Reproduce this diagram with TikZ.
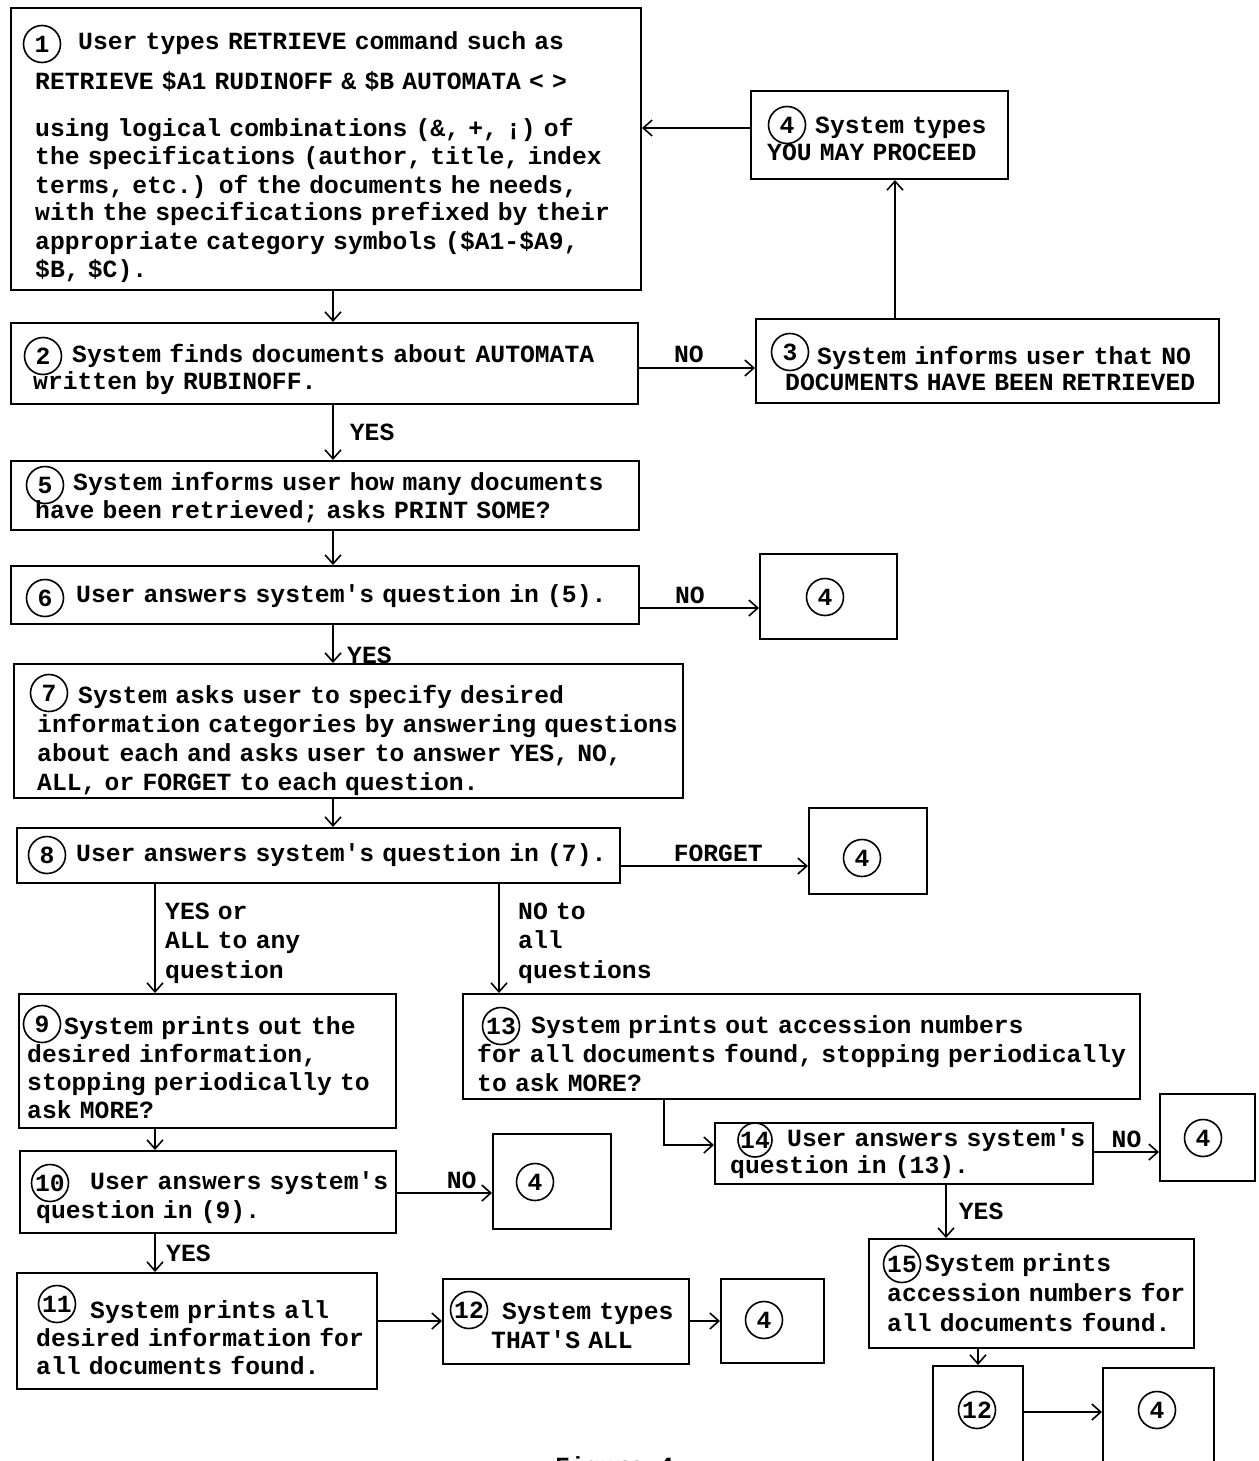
\documentclass[tikz,border=0pt]{standalone}
\usepackage{fontspec}
\setmonofont{Liberation Mono}
\usetikzlibrary{arrows.meta}
\begin{document}
\begin{tikzpicture}[x=1pt,y=-1pt,
  box/.style={draw=black, line width=2pt, anchor=north west, inner sep=0pt},
  circ/.style={draw=black, circle, line width=1.6pt, minimum size=37pt, inner sep=0pt,
    font=\ttfamily\bfseries\fontsize{24.7}{28}\selectfont},
  tx/.style={anchor=base west, inner sep=0pt, align=left, text width=700pt,
    font=\ttfamily\bfseries\fontsize{24.7}{#1}\selectfont},
  tx/.default=28,
  lbl/.style={inner sep=0pt, font=\ttfamily\bfseries\fontsize{24.7}{29.5}\selectfont},
  arr/.style={line width=1.8pt, -{Straight Barb[length=9pt,width=16pt,line width=1.6pt]}},
  conn/.style={line width=1.8pt}
]
\useasboundingbox (0,0) rectangle (1258,1461);
\clip (0,0) rectangle (1258,1461);
\fill[white] (0,0) rectangle (1258,1461);

% ---------- boxes ----------
\node[box, minimum width=630pt, minimum height=282pt] (b1) at (10,7) {};
\node[box, minimum width=257pt, minimum height=88pt] (b4) at (750,90) {};
\node[box, minimum width=627pt, minimum height=81pt] (b2) at (10,322) {};
\node[box, minimum width=463pt, minimum height=84pt] (b3) at (755,318) {};
\node[box, minimum width=628pt, minimum height=69pt] (b5) at (10,460) {};
\node[box, minimum width=628pt, minimum height=58pt] (b6) at (10,565) {};
\node[box, minimum width=137pt, minimum height=85pt] (b4a) at (759,553) {};
\node[box, minimum width=669pt, minimum height=134pt] (b7) at (13,663) {};
\node[box, minimum width=603pt, minimum height=55pt] (b8) at (16,827) {};
\node[box, minimum width=118pt, minimum height=86pt] (b4b) at (808,807) {};
\node[box, minimum width=377pt, minimum height=134pt] (b9) at (18,993) {};
\node[box, minimum width=677pt, minimum height=105pt] (b13) at (462,993) {};
\node[box, minimum width=376pt, minimum height=82pt] (b10) at (19,1150) {};
\node[box, minimum width=118pt, minimum height=95pt] (b4e) at (492,1133) {};
\node[box, minimum width=378pt, minimum height=61pt] (b14) at (714,1122) {};
\node[box, minimum width=95pt, minimum height=87pt] (b4c) at (1159,1093) {};
\node[box, minimum width=360pt, minimum height=116pt] (b11) at (16,1272) {};
\node[box, minimum width=246pt, minimum height=85pt] (b12) at (442,1278) {};
\node[box, minimum width=103pt, minimum height=84pt] (b4f) at (720,1278) {};
\node[box, minimum width=325pt, minimum height=109pt] (b15) at (868,1238) {};
\node[box, minimum width=90pt, minimum height=120pt] (b12b) at (932,1365) {};
\node[box, minimum width=111pt, minimum height=120pt] (b4d) at (1102,1367) {};

% ---------- circled numbers ----------
\node[circ] (c1) at (42,44) {1};
\node[circ] (c2) at (43,356) {2};
\node[circ] (c3) at (790,352) {3};
\node[circ] (c4) at (787,125) {4};
\node[circ] (c5) at (45,485) {5};
\node[circ] (c6) at (45,598) {6};
\node[circ] (c4a) at (825,597) {4};
\node[circ] (c7) at (49,693) {7};
\node[circ] (c8) at (47,855) {8};
\node[circ] (c4b) at (862,858) {4};
\node[circ] (c9) at (42,1024) {9};
\node[circ] (c13) at (501,1026) {13};
\node[circ] (c10) at (50,1183) {10};
\node[circ] (c4e) at (535,1182) {4};
\node[circ, minimum size=34pt] (c14) at (755,1140) {14};
\node[circ] (c4c) at (1203,1138) {4};
\node[circ] (c11) at (57,1304) {11};
\node[circ] (c12) at (469,1310) {12};
\node[circ] (c4f) at (764,1320) {4};
\node[circ] (c15) at (902,1264) {15};
\node[circ] (c12b) at (977,1410) {12};
\node[circ] (c4d) at (1157,1410) {4};

% ---------- texts ----------
\node[tx] (t1a) at (78,50) {User types RETRIEVE command such as};
\node[tx] (t1b) at (35,90) {RETRIEVE \$A1 RUDINOFF \& \$B AUTOMATA < >};
\node[tx=28] (t1c) at (35,137) {using logical combinations (\&, +, ¡) of\\
the specifications (author, title, index\\
terms, etc.) of the documents he needs,\\
with the specifications prefixed by their\\
appropriate category symbols (\$A1-\$A9,\\
\$B, \$C).};
\node[tx=27] (t2) at (33,362) {\hspace*{39pt}System finds documents about AUTOMATA\\
written by RUBINOFF.};
\node[tx=26] (t3) at (785,364) {\hspace*{32pt}System informs user that NO\\
DOCUMENTS HAVE BEEN RETRIEVED};
\node[tx=27] (t4) at (767,134) {\hspace*{48pt}System types\\
YOU MAY PROCEED};
\node[tx=28] (t5) at (35,490) {\hspace*{38pt}System informs user how many documents\\
have been retrieved; asks PRINT SOME?};
\node[tx] (t6) at (76,602) {User answers system's question in (5).};
\node[tx=29.3] (t7) at (37,703) {\hspace*{41pt}System asks user to specify desired\\
information categories by answering questions\\
about each and asks user to answer YES, NO,\\
ALL, or FORGET to each question.};
\node[tx] (t8) at (76,861) {User answers system's question in (7).};
\node[tx=28.3] (t9) at (27,1034) {\hspace*{37pt}System prints out the\\
desired information,\\
stopping periodically to\\
ask MORE?};
\node[tx=29] (t13) at (477,1033) {\hspace*{54pt}System prints out accession numbers\\
for all documents found, stopping periodically\\
to ask MORE?};
\node[tx=29] (t10) at (36,1189) {\hspace*{54pt}User answers system's\\
question in (9).};
\node[tx=27] (t14) at (730,1146) {\hspace*{57pt}User answers system's\\
question in (13).};
\node[tx=28] (t11) at (36,1318) {\hspace*{54pt}System prints all\\
desired information for\\
all documents found.};
\node[tx=29] (t12) at (491,1319) {\hspace*{11pt}System types\\
THAT'S ALL};
\node[tx=30] (t15) at (887,1271) {\hspace*{38pt}System prints\\
accession numbers for\\
all documents found.};
\node[lbl, anchor=north west] (fig) at (555,1456) {Figure 4};

% ---------- connector coordinates ----------
\coordinate (vA) at (333,0);
\coordinate (vL) at (155,0);
\coordinate (vR) at (499,0);
\coordinate (v34) at (895,0);
\coordinate (v13) at (664,0);
\coordinate (v14) at (946,0);
\coordinate (v15) at (978,0);
\coordinate (h41) at (0,128);
\coordinate (h23) at (0,368);
\coordinate (h6) at (0,608);
\coordinate (h8) at (0,866);
\coordinate (h10) at (0,1193);
\coordinate (h14) at (0,1145);
\coordinate (h14b) at (0,1152);
\coordinate (h11) at (0,1321);
\coordinate (h12b) at (0,1412);

% ---------- connectors ----------
\draw[arr] (h41 -| b4.west) -- (h41 -| b1.east);
\draw[arr] (v34 |- b3.north) -- (v34 |- b4.south);
\draw[arr] (vA |- b1.south) -- (vA |- b2.north);
\draw[arr] (h23 -| b2.east) -- node[lbl, above=4pt, pos=0.43] (lno23) {NO} (h23 -| b3.west);
\draw[arr] (vA |- b2.south) -- node[lbl, right=16pt] (lyes25) {YES} (vA |- b5.north);
\draw[arr] (vA |- b5.south) -- (vA |- b6.north);
\draw[arr] (h6 -| b6.east) -- node[lbl, above=3pt, pos=0.42] (lno6) {NO} (h6 -| b4a.west);
\draw[arr] (vA |- b6.south) -- (vA |- b7.north);
\node[lbl, anchor=base west] (lyes67) at (347,663) {YES};
\draw[arr] (vA |- b7.south) -- (vA |- b8.north);
\draw[arr] (h8 -| b8.east) -- node[lbl, above=3pt, pos=0.52] (lforget) {FORGET} (h8 -| b4b.west);
\draw[arr] (vL |- b8.south) -- (vL |- b9.north);
\node[tx=29.5] (lyesall) at (165,919) {YES or\\ALL to any\\question};
\draw[arr] (vR |- b8.south) -- (vR |- b13.north);
\node[tx=29.5] (lnoall) at (518,919) {NO to\\all\\questions};
\draw[arr] (vL |- b9.south) -- (vL |- b10.north);
\draw[arr] (h10 -| b10.east) -- node[lbl, above=3pt, pos=0.68] (lno10) {NO} (h10 -| b4e.west);
\draw[arr] (vL |- b10.south) -- (vL |- b11.north);
\node[lbl, anchor=base west] (lyes1011) at (166,1261) {YES};
\draw[arr] (h11 -| b11.east) -- (h11 -| b12.west);
\draw[arr] (h11 -| b12.east) -- (h11 -| b4f.west);
\draw[arr] (v13 |- b13.south) |- (h14 -| b14.west);
\draw[arr] (h14b -| b14.east) -- node[lbl, above=3pt, pos=0.5] (lno14) {NO} (h14b -| b4c.west);
\draw[arr] (v14 |- b14.south) -- node[lbl, right=12pt] (lyes1415) {YES} (v14 |- b15.north);
\draw[arr] (v15 |- b15.south) -- (v15 |- b12b.north);
\draw[arr] (h12b -| b12b.east) -- (h12b -| b4d.west);
\end{tikzpicture}
\end{document}
